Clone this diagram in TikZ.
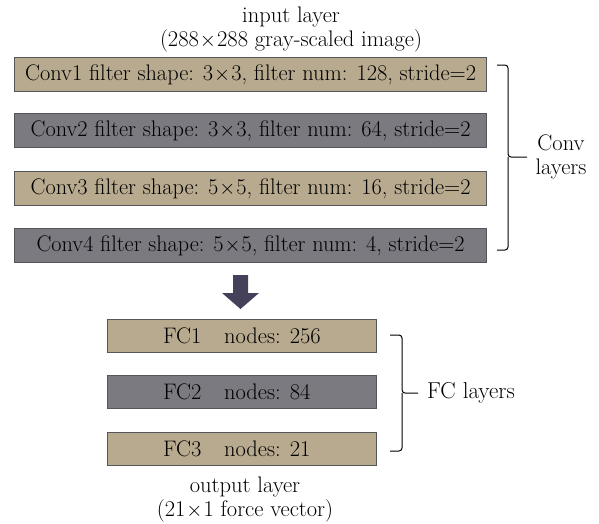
\documentclass[tikz,border=0pt]{standalone}
\usepackage{graphicx}
\usepackage{fontspec}
\setmainfont{Latin Modern Roman}
\definecolor{tanbox}{HTML}{B8AA8E}
\definecolor{graybox}{HTML}{7A7A80}
\definecolor{boxedge}{HTML}{55555C}
\definecolor{arrowcol}{HTML}{45415A}
\newcommand{\tx}{\kern1pt$\times$\kern1pt}
\newcommand{\fitw}[2]{\resizebox{#1}{\height}{#2}}
\begin{document}
\begin{tikzpicture}[x=1pt,y=-1pt,
  layerbox/.style={draw=boxedge,line width=1.2pt,anchor=north west,inner sep=0pt,
    font=\fontsize{22.5}{25}\selectfont},
  tanlayer/.style={layerbox,fill=tanbox},
  graylayer/.style={layerbox,fill=graybox},
  convsize/.style={minimum width=472pt,minimum height=34pt},
  fcsize/.style={minimum width=269pt,minimum height=33pt},
  fctext/.style={anchor=west,inner sep=0pt,font=\fontsize{22.5}{25}\selectfont},
  lbl/.style={font=\fontsize{22.5}{24}\selectfont,align=center,inner sep=0pt},
  bracket/.style={line width=1pt,rounded corners=3pt}]
\useasboundingbox (0,0) rectangle (599,523);
\node[lbl] (in) at (291,29) {input layer\\(288\tx288 gray-scaled image)};
\node[tanlayer,convsize] (c1) at (14,57) {\fitw{451pt}{Conv1 filter shape: 3\tx3, filter num: 128, stride=2}};
\node[graylayer,convsize] (c2) at (14,113) {\fitw{440pt}{Conv2 filter shape: 3\tx3, filter num: 64, stride=2}};
\node[tanlayer,convsize] (c3) at (14,171) {\fitw{440pt}{Conv3 filter shape: 5\tx5, filter num: 16, stride=2}};
\node[graylayer,convsize] (c4) at (14,228) {\fitw{428pt}{Conv4 filter shape: 5\tx5, filter num: 4, stride=2}};
\coordinate (cb1) at (497,65);
\coordinate (cb2) at (497,250);
\coordinate (ctip) at (527,157);
\draw[bracket] (cb1) -- (508,65) -- (508,157) -- (ctip);
\draw[bracket] (cb2) -- (508,250) -- (508,157);
\node[lbl] (convlbl) at (561,157) {Conv\\layers};
\fill[arrowcol] (233,275) -- (248,275) -- (248,293) -- (259,293) -- (240.5,309) -- (222,293) -- (233,293) -- cycle;
\node[tanlayer,fcsize] (f1) at (107,319) {};
\node[graylayer,fcsize] (f2) at (107,375) {};
\node[tanlayer,fcsize] (f3) at (107,432) {};
\node[fctext] (f1t) at ([xshift=56pt]f1.west) {FC1\quad nodes: 256};
\node[fctext] (f2t) at ([xshift=56pt]f2.west) {FC2\quad nodes: 84};
\node[fctext] (f3t) at ([xshift=56pt]f3.west) {FC3\quad nodes: 21};
\coordinate (fb1) at (390,335);
\coordinate (fb2) at (390,451);
\coordinate (ftip) at (418,393);
\draw[bracket] (fb1) -- (402,335) -- (402,393) -- (ftip);
\draw[bracket] (fb2) -- (402,451) -- (402,393);
\node[lbl,anchor=west,font=\fontsize{23}{25}\selectfont] (fclbl) at (427,393) {FC layers};
\node[lbl] (out) at (245,499) {output layer\\(21\tx1 force vector)};
\end{tikzpicture}
\end{document}
